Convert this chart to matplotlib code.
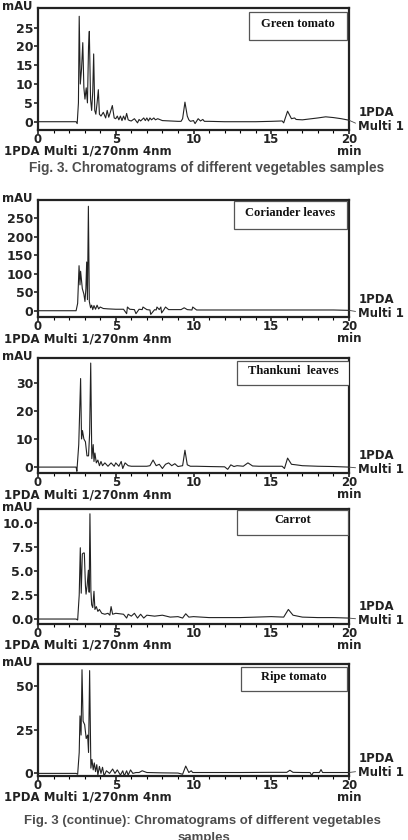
import matplotlib
matplotlib.use("Agg")
import matplotlib.pyplot as plt
from matplotlib.patches import Rectangle

W, H = 408, 840

# ---- data (time in min, signal in mAU) ----
green_t = [0, 2.45, 2.52, 2.6, 2.65, 2.72, 2.8, 2.88, 2.95, 3.02, 3.1, 3.18, 3.25, 3.3,
           3.38, 3.45, 3.52, 3.58, 3.65, 3.72, 3.8, 3.88, 3.95, 4.05, 4.2, 4.35, 4.45,
           4.55, 4.65, 4.78, 4.9, 5.0, 5.1, 5.2, 5.3, 5.4, 5.5, 5.6, 5.7, 5.8, 5.9, 6.0,
           6.2, 6.4, 6.5, 6.6, 6.8, 6.9, 7.0, 7.1, 7.2, 7.3, 7.45, 7.55, 7.7, 8.0, 8.5,
           9.0, 9.2, 9.3, 9.45, 9.6, 9.7, 9.8, 10.0, 10.1, 10.3, 10.45, 10.6, 10.7, 11,
           12, 13, 14, 15, 15.7, 15.8, 16.05, 16.3, 16.5, 16.6, 17, 18, 18.5, 19, 19.5, 20]
green_v = [0, 0, -0.5, 5, 28, 10, 14, 21, 9, 6, 9, 5, 20, 24,
           6, 3, 8, 18, 3, 2, 5, 8.5, 2, 1.5, 2.5, 1, 3,
           1.2, 2.5, 4.3, 1, 0.8, 1.5, 0.5, 1.5, 0.3, 1.5, 0.5, 2.2, 0.5, 0.3, 0.2,
           0.8, -0.3, 0.6, 0.2, 1.0, 0.3, 1.0, 0.2, 1.0, 0.5, 1.0, 0.5, 0.8, 0.3, 0.2,
           0.1, 0.1, 0.8, 5.2, 1.5, 0.5, 0.1, 0.3, -0.5, 0.8, 0.2, 0.6, 0.1, 0.1,
           0, 0, 0, 0.1, 0.2, -0.3, 2.8, 0.8, 1.0, 0.6, 0.5, 1.0, 1.3, 1.1, 0.8, 0.4]

cor_t = [0, 2.45, 2.55, 2.64, 2.7, 2.74, 2.85, 2.95, 3.02, 3.08, 3.13, 3.18, 3.24, 3.3,
         3.38, 3.45, 3.52, 3.6, 3.7, 3.8, 3.9, 4.0, 4.2, 4.5, 5.0, 5.5, 5.7, 5.75, 5.9,
         6.2, 6.3, 6.5, 6.7, 6.75, 7.0, 7.2, 7.25, 7.5, 7.6, 7.65, 7.8, 7.9, 7.95, 8.1,
         8.2, 8.4, 8.5, 9.0, 9.2, 9.4, 9.6, 9.9, 9.95, 10.2, 11, 13, 15, 17, 19, 20]
cor_v = [0, 0, 20, 122, 70, 107, 60, 45, 25, 60, 132, 30, 283, 25,
         8, 15, 3, 14, 4, 15, 5, 10, 6, 5, 4, 4, -8, 10, 4,
         3, -8, 4, 3, 10, 3, 2, -10, 3, 2, 10, 3, 10, -6, 3,
         10, 3, 3, 3, 3, 8, 3, 2, 10, 2, 2, 2, 2, 2, 2, 1]

than_t = [0, 2.45, 2.5, 2.62, 2.74, 2.8, 2.86, 2.95, 3.05, 3.15, 3.25, 3.32, 3.39,
          3.46, 3.55, 3.6, 3.66, 3.75, 3.85, 3.95, 4.05, 4.15, 4.3, 4.5, 4.7, 4.9,
          5.0, 5.2, 5.35, 5.45, 5.6, 5.8, 6.0, 6.5, 7.0, 7.2, 7.4, 7.6, 7.8, 8.0,
          8.2, 8.4, 8.6, 8.8, 9.0, 9.3, 9.45, 9.6, 9.8, 10.2, 11, 12, 12.2, 12.4,
          12.6, 12.8, 13.2, 13.5, 13.8, 14.2, 15, 15.7, 15.85, 16.05, 16.3, 16.6,
          17, 18, 19, 20]
than_v = [0, 0, -1.5, 8, 31.5, 10, 13, 10, 9, 4, 4, 12, 37,
          3, 8, 2, 5, 1.5, 2.5, 0.5, 2, 0.5, 1.5, 0.3, 1.5, 0.3,
          1.5, 0.3, 2, -0.5, 1.5, 0.5, 0.3, 0.3, 0.3, 0.5, 2.5, 0.5, 1.0, -0.5,
          1.0, 1.5, 0.5, 1.2, 0.2, 0.5, 6.0, 0.8, 0.3, 0.3, 0.2, 0.1, -0.8, 0.8,
          0.2, 0.5, 0.3, 1.5, 0.4, 0.3, 0.3, 0.3, -0.5, 3.2, 1.0, 0.8,
          0.5, 0.3, 0.2, 0]

car_t = [0, 2.45, 2.55, 2.65, 2.72, 2.78, 2.85, 2.92, 2.98, 3.05, 3.09, 3.16, 3.24,
         3.29, 3.34, 3.4, 3.45, 3.52, 3.6, 3.66, 3.75, 3.85, 3.95, 4.1, 4.3, 4.5,
         4.62, 4.7, 4.8, 5.0, 5.5, 5.7, 5.8, 6.0, 6.2, 6.4, 6.6, 6.8, 7.0, 7.5, 8.0,
         8.5, 9.0, 9.3, 9.5, 9.7, 10.0, 11, 12, 13, 14, 15, 15.8, 16.1, 16.4, 16.7,
         17, 18, 19, 20]
car_v = [0, 0, -0.1, 2.5, 7.45, 2.7, 6.8, 6.9, 6.9, 3.5, 2.6, 3.5, 5.1,
         2.8, 11.0, 3.0, 1.5, 1.2, 2.9, 1.0, 1.3, 0.8, 1.0, 0.6, 0.5, 0.6,
         0.4, 1.3, 0.5, 0.6, 0.5, 0.1, 0.5, 0.3, 0.6, 0.1, 0.5, 0.1, 0.4, 0.3, 0.4,
         0.2, 0.25, 0.1, 0.55, 0.2, 0.25, 0.15, 0.15, 0.15, 0.2, 0.25, 0.2, 1.0, 0.4, 0.3,
         0.2, 0.15, 0.15, 0.1]

ripe_t = [0, 2.45, 2.55, 2.65, 2.7, 2.77, 2.83, 2.9, 3.0, 3.1, 3.19, 3.25, 3.32,
          3.4, 3.47, 3.55, 3.62, 3.7, 3.78, 3.85, 3.95, 4.05, 4.15, 4.25, 4.4, 4.6,
          4.8, 4.95, 5.1, 5.3, 5.45, 5.55, 5.7, 5.8, 5.95, 6.1, 6.3, 6.5, 6.7, 7.0,
          8.0, 9.0, 9.3, 9.5, 9.7, 9.85, 9.95, 11, 13, 15, 16.0, 16.2, 16.4, 17,
          17.5, 17.6, 17.7, 18.1, 18.2, 18.3, 19, 20]
ripe_v = [0, 0, -0.5, 12, 33, 22, 59.5, 30, 28, 20, 22, 12, 59,
          3, 8, 2, 6, 1, 5, -1, 4, 0, 3.5, -1.5, 1.5, 0,
          2.5, 0, 2, -1, 1.5, -1.5, 1.5, -1, 2, 0, 0.5, 0.5, 1.5, 0.5,
          0.3, 0.2, -0.5, 4.2, 0.5, 1.5, 0.5, 0.5, 0.5, 0.6, 0.6, 1.8, 0.6, 0.5,
          0.5, -1.2, 0.5, 0.5, 2.2, 0.5, 0.5, 0.5]

names = ["Green tomato", "Coriander leaves", "Thankuni  leaves", "Carrot", "Ripe tomato"]
traces = [(green_t, green_v), (cor_t, cor_v), (than_t, than_v), (car_t, car_v), (ripe_t, ripe_v)]
yticks = [[0, 5, 10, 15, 20, 25], [0, 50, 100, 150, 200, 250], [0, 10, 20, 30],
          [0.0, 2.5, 5.0, 7.5, 10.0], [0, 25, 50]]
ylims = [(-2.2, 30.2), (-17, 300), (-2.1, 38.8), (-0.52, 11.5), (-1.5, 62.8)]

# ---- layout (pixel positions of each axes: top, bottom) ----
ax_pix = [(8, 130), (200, 317), (358, 473), (509, 624), (664, 776)]
ax_left, ax_right = 38, 349
box_pos = [(0.678, 0.738, 0.994, 0.967), (0.630, 0.752, 0.994, 0.994),
           (0.640, 0.765, 1.0, 0.976), (0.640, 0.776, 0.997, 0.988),
           (0.653, 0.759, 0.994, 0.976)]

bold = dict(family="DejaVu Sans", fontweight="bold")
ink = "#222222"

fig = plt.figure(figsize=(W / 100, H / 100), dpi=100)

for i, ((t, v), name) in enumerate(zip(traces, names)):
    top, bot = ax_pix[i]
    h = bot - top
    ax = fig.add_axes([ax_left / W, 1 - bot / H, (ax_right - ax_left) / W, h / H])
    ax.plot(t, v, color=ink, lw=0.8)
    ax.set_xlim(0, 20)
    ax.set_ylim(*ylims[i])
    ax.set_xticks([0, 5, 10, 15, 20])
    ax.set_xticks(range(0, 21), minor=True)
    ax.set_yticks(yticks[i])
    if i == 3:
        ax.set_yticklabels([f"{y:.1f}" for y in yticks[i]])
    for s in ax.spines.values():
        s.set_linewidth(1.6)
        s.set_color(ink)
    ax.tick_params(axis="both", which="major", direction="out", length=3, width=1.2,
                   colors=ink)
    ax.tick_params(axis="x", which="major", pad=-1, labelsize=8.5)
    ax.tick_params(axis="y", which="major", pad=0.5, labelsize=9)
    ax.tick_params(axis="x", which="minor", direction="out", length=2, width=0.8)
    for lab in ax.get_xticklabels() + ax.get_yticklabels():
        lab.set_fontweight("bold")

    # y unit
    ax.text(-0.115, 1.0 + 1.5 / h, "mAU", transform=ax.transAxes, ha="left", va="center",
            fontsize=8.5, **bold, color=ink)
    # time unit under the last tick
    ax.text(1.0, -15 / h, "min", transform=ax.transAxes, ha="center", va="top",
            fontsize=8.5, **bold, color=ink)
    # detector label
    ax.text(-0.11, -15 / h, "1PDA Multi 1/270nm 4nm", transform=ax.transAxes,
            ha="left", va="top", fontsize=8.5, **bold, color=ink)
    # channel label at the right with a small leader line
    ax.annotate("1PDA\nMulti 1", xy=(t[-1], v[-1]), xycoords="data",
                xytext=(1.03, 0.09), textcoords="axes fraction", ha="left", va="center",
                fontsize=8.5, **bold, color=ink, linespacing=1.1,
                arrowprops=dict(arrowstyle="-", color="#444444", lw=0.6,
                                shrinkA=0, shrinkB=0, relpos=(0, 0.3)),
                annotation_clip=False)

    x0, y0, x1, y1 = box_pos[i]
    ax.add_patch(Rectangle((x0, y0), x1 - x0, y1 - y0, transform=ax.transAxes,
                           facecolor="white", edgecolor="#555555", lw=0.9, zorder=5))
    ax.text((x0 + x1) / 2, (y0 + y1) / 2 + 0.02, name, transform=ax.transAxes,
            ha="center", va="center", fontsize=9, family="Liberation Serif",
            fontweight="bold", color="#111111", zorder=6)

cap = dict(family="Liberation Sans", fontweight="bold", color="#4d4d4d")
fig.text(207 / W, 1 - 168 / H, "Fig. 3. Chromatograms of different vegetables samples",
         ha="center", va="center", fontsize=9.8, **cap)
fig.text(202 / W, 1 - 821 / H, "Fig. 3 (continue): Chromatograms of different vegetables",
         ha="center", va="center", fontsize=9.5, **cap)
fig.text(204 / W, 1 - 832 / H, "samples", ha="center", va="top", fontsize=9.5, **cap)

fig.savefig("out.png", dpi=100)
